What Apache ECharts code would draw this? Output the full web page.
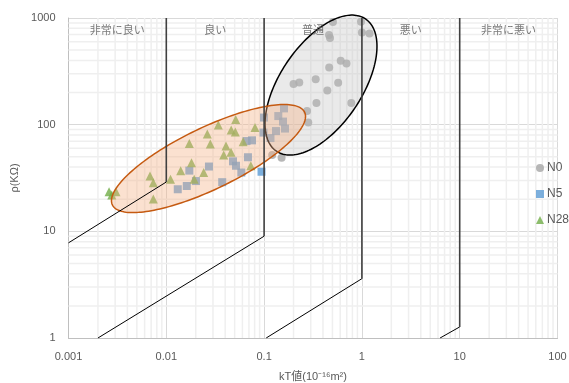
<!DOCTYPE html>
<html><head><meta charset="utf-8">
<script src="https://cdn.jsdelivr.net/npm/echarts@6/dist/echarts.min.js"></script>
<style>html,body{margin:0;padding:0;background:#fff}#c{width:569px;height:383px}</style>
</head><body><div id="c"></div>
<script>
// ---- data ----
const xTickLabels = ['0.001', '0.01', '0.1', '1', '10', '100'];
const yTickLabels = ['1', '10', '100', '1000'];
const zoneNames = ['非常に良い', '良い', '普通', '悪い', '非常に悪い'];
const zoneCenters = [0.00316, 0.0316, 0.316, 3.16, 31.6];
const zoneLabelRho = 770;

const seriesNames = ['N0', 'N5', 'N28'];

const n0X = [0.506, 0.461, 0.472, 0.979, 1.0, 1.196, 0.607, 0.696, 0.463, 0.337, 0.200, 0.229, 0.572, 0.443, 0.343, 0.779, 0.275, 0.283, 0.121, 0.151];
const n0Y = [915, 691, 648, 921, 730, 714, 397, 375, 343, 267, 240, 248, 247, 209, 160, 160, 134, 105, 52, 49];

const n5X = [0.0131, 0.0162, 0.0172, 0.0201, 0.0273, 0.0373, 0.0481, 0.0516, 0.0585, 0.0684, 0.0661, 0.0752, 0.0941, 0.0986, 0.1162, 0.0998, 0.1323, 0.1397, 0.1598, 0.1561, 0.1636];
const n5Y = [24.8, 26.6, 37.1, 29.6, 40.5, 28.9, 45.3, 41.2, 35.6, 49.5, 70.2, 71.3, 36.2, 84.3, 74.9, 116.6, 87.1, 120.4, 142.1, 106.9, 91.9];

const n28X = [0.00260, 0.00277, 0.00306, 0.00681, 0.00737, 0.00737, 0.01104, 0.01404, 0.01810, 0.01929, 0.01719, 0.02413, 0.02626, 0.02818, 0.03401, 0.04077, 0.03863, 0.04588, 0.04609, 0.05076, 0.05124, 0.06113, 0.07311, 0.08072];
const n28Y = [23.5, 21.9, 23.5, 33.0, 28.5, 20.1, 30.7, 36.9, 44.0, 30.8, 66.5, 35.6, 81.7, 65.8, 99.2, 63.0, 51.9, 55.0, 89.0, 85.2, 112.1, 69.1, 41.1, 93.9];

// class boundary lines: [lower end, corner, top]
const boundaryLow = [[0.001, 7.8], [0.002, 1], [0.105, 1], [6.3, 1]];
const boundaryCorner = [[0.01, 29], [0.1, 9], [1, 3.6], [10, 1.27]];
const boundaryTop = [[0.01, 1000], [0.1, 1000], [1, 1000], [10, 1000]];

// ellipses in log10 units: centre, semi-axis vector U, semi-axis vector V
const ellOrangeC = [-1.5685, 1.6823];
const ellOrangeU = [0.9827, 0.4346];
const ellOrangeV = [-0.1369, 0.2600];
const ellGrayC = [-0.4182, 2.3711];
const ellGrayU = [0.4553, 0.6201];
const ellGrayV = [-0.3469, 0.2140];

// ---- chart ----
const FONT = "'Liberation Sans','Noto Sans CJK JP',sans-serif";
const JP = "'Noto Sans CJK JP','Liberation Sans',sans-serif";
const TXT = '#595959';

function zip(a, b) { return a.map((v, i) => [v, b[i]]); }

function minorGrid(params, api) {
  const ch = [];
  for (let e = -3; e < 2; e++) for (let k = 2; k < 10; k++) {
    const v = k * Math.pow(10, e);
    const p1 = api.coord([v, 1]), p2 = api.coord([v, 1000]);
    ch.push({ type: 'line', shape: { x1: p1[0], y1: p1[1], x2: p2[0], y2: p2[1] }, style: { stroke: '#efefef', lineWidth: 1.5 } });
  }
  for (let e = 0; e < 3; e++) for (let k = 2; k < 10; k++) {
    const v = k * Math.pow(10, e);
    const p1 = api.coord([0.001, v]), p2 = api.coord([100, v]);
    ch.push({ type: 'line', shape: { x1: p1[0], y1: p1[1], x2: p2[0], y2: p2[1] }, style: { stroke: '#efefef', lineWidth: 1.5 } });
  }
  return { type: 'group', children: ch };
}

function ellipseRender(C, U, V, fill, stroke) {
  return function (params, api) {
    const pts = [];
    for (let i = 0; i < 180; i++) {
      const t = i / 180 * Math.PI * 2;
      const lx = C[0] + U[0] * Math.cos(t) + V[0] * Math.sin(t);
      const ly = C[1] + U[1] * Math.cos(t) + V[1] * Math.sin(t);
      pts.push(api.coord([Math.pow(10, lx), Math.pow(10, ly)]));
    }
    return { type: 'polygon', shape: { points: pts }, style: { fill: fill, stroke: stroke, lineWidth: 1.5 } };
  };
}

const series = [
  { type: 'custom', name: 'grid', coordinateSystem: 'cartesian2d', renderItem: minorGrid, data: [[0.01, 10]], silent: true, z: 1 },
  { type: 'scatter', name: 'N0', data: zip(n0X, n0Y), symbol: 'circle', symbolSize: 8, itemStyle: { color: '#a5a5a5' }, z: 2 },
  { type: 'scatter', name: 'N5', data: zip(n5X, n5Y), symbol: 'rect', symbolSize: 8, itemStyle: { color: '#5b9bd5' }, z: 2 },
  { type: 'scatter', name: 'N28', data: zip(n28X, n28Y), symbol: 'triangle', symbolSize: 9, itemStyle: { color: '#70ad47' }, z: 2 },
  { type: 'custom', name: 'ellGray', coordinateSystem: 'cartesian2d', renderItem: ellipseRender(ellGrayC, ellGrayU, ellGrayV, 'rgba(191,191,191,0.32)', '#000'), data: [[0.4, 200]], silent: true, z: 3 },
  { type: 'custom', name: 'ellOrange', coordinateSystem: 'cartesian2d', renderItem: ellipseRender(ellOrangeC, ellOrangeU, ellOrangeV, 'rgba(244,177,131,0.38)', '#c55a11'), data: [[0.03, 50]], silent: true, z: 3 }
];
boundaryCorner.forEach((c, i) => {
  series.push({ type: 'line', name: 'bd' + i, data: [boundaryLow[i], c], symbol: 'none', silent: true, lineStyle: { color: '#000', width: 1 }, z: 4 });
  series.push({ type: 'line', name: 'bv' + i, data: [c, boundaryTop[i]], symbol: 'none', silent: true, lineStyle: { color: '#404040', width: 1.6 }, z: 4 });
});
series.push({
  type: 'scatter', name: 'zones', silent: true, symbolSize: 0, z: 5,
  data: zoneCenters.map((x, i) => ({ name: zoneNames[i], value: [x, zoneLabelRho] })),
  label: { show: true, position: 'inside', formatter: p => p.name, color: TXT, fontSize: 11, fontFamily: JP }
});

const chart = echarts.init(document.getElementById('c'), null, { renderer: 'canvas' });
chart.setOption({
  animation: false,
  backgroundColor: '#fff',
  grid: { left: 68.5, right: 11.5, top: 18, bottom: 45, containLabel: false, outerBoundsMode: 'none' },
  legend: {
    orient: 'vertical', left: 536, top: 162, itemWidth: 8, itemHeight: 8, itemGap: 14, padding: 0,
    data: [{ name: 'N0', icon: 'circle' }, { name: 'N5', icon: 'rect' }, { name: 'N28', icon: 'triangle' }],
    textStyle: { color: TXT, fontSize: 12, fontFamily: FONT, padding: [0, 0, 0, -2] }
  },
  xAxis: {
    type: 'log', logBase: 10, min: 0.001, max: 100, splitNumber: 5,
    axisLine: { show: true, lineStyle: { color: '#bfbfbf' } },
    axisTick: { show: false },
    splitLine: { show: true, lineStyle: { color: '#d9d9d9' } },
    axisLabel: { color: TXT, fontSize: 11, fontFamily: FONT, margin: 13,
      formatter: v => xTickLabels[Math.round(Math.log10(v)) + 3] },
    name: 'kT値(10⁻¹⁶m²)', nameLocation: 'middle', nameGap: 33,
    nameTextStyle: { color: TXT, fontSize: 11, fontFamily: FONT }
  },
  yAxis: {
    type: 'log', logBase: 10, min: 1, max: 1000, splitNumber: 3,
    axisLine: { show: true, lineStyle: { color: '#bfbfbf' } },
    axisTick: { show: false },
    splitLine: { show: true, lineStyle: { color: '#d9d9d9' } },
    axisLabel: { color: TXT, fontSize: 11, fontFamily: FONT, margin: 13,
      formatter: v => yTickLabels[Math.round(Math.log10(v))] },
    name: 'ρ(KΩ)', nameLocation: 'middle', nameGap: 37, nameRotate: 90,
    nameTextStyle: { color: TXT, fontSize: 11, fontFamily: FONT }
  },
  series: series
});
</script></body></html>
